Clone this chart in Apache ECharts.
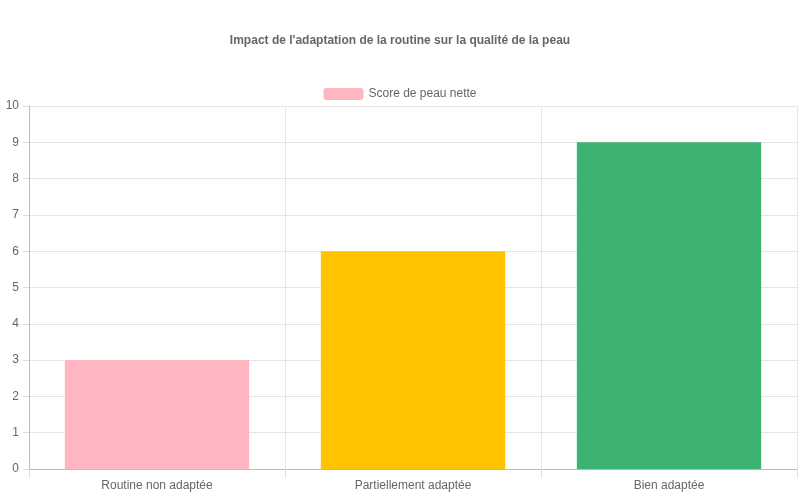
<!DOCTYPE html>
<html><head><meta charset="utf-8">
<script src="https://cdn.jsdelivr.net/npm/echarts@6/dist/echarts.min.js"></script>
<style>html,body{margin:0;padding:0;background:#fff}#c{width:800px;height:500px}</style>
</head><body><div id="c"></div>
<script>
const categories = ["Routine non adaptée", "Partiellement adaptée", "Bien adaptée"];
const scores = [3, 6, 9];
const barColors = ["#FFB6C1", "#FFC300", "#3CB371"];
const seriesName = "Score de peau nette";
const chart = echarts.init(document.getElementById('c'));
chart.setOption({
  animation: false,
  title: { text: "Impact de l'adaptation de la routine sur la qualité de la peau", left: 'center', top: 30,
    textStyle: { fontFamily: 'Liberation Sans, Arial', fontSize: 12, fontWeight: 'bold', color: '#666' } },
  legend: { top: 83, left: 'center', itemWidth: 40, itemHeight: 12, itemGap: 10,
    textStyle: { fontFamily: 'Liberation Sans, Arial', fontSize: 12, color: '#666' }, data: [seriesName] },
  grid: { left: 29, right: 3, top: 106, bottom: 31, containLabel: false },
  xAxis: { type: 'category', data: categories,
    axisLine: { lineStyle: { color: '#bbb' } },
    axisTick: { show: true, length: 9, lineStyle: { color: '#ddd' } },
    splitLine: { show: true, lineStyle: { color: '#e5e5e5' } },
    axisLabel: { color: '#666', fontFamily: 'Liberation Sans, Arial', fontSize: 12, margin: 11 } },
  yAxis: { type: 'value', min: 0, max: 10, interval: 1,
    axisLine: { show: true, lineStyle: { color: '#bbb' } },
    axisTick: { show: true, length: 6, lineStyle: { color: '#ddd' } },
    splitLine: { lineStyle: { color: '#e5e5e5' } },
    axisLabel: { color: '#666', fontFamily: 'Liberation Sans, Arial', fontSize: 12, margin: 10 } },
  series: [{ name: seriesName, type: 'bar', barWidth: '72%', itemStyle: { color: barColors[0] },
    data: scores.map((v, i) => ({ value: v, itemStyle: { color: barColors[i] } })) }]
});
</script></body></html>
